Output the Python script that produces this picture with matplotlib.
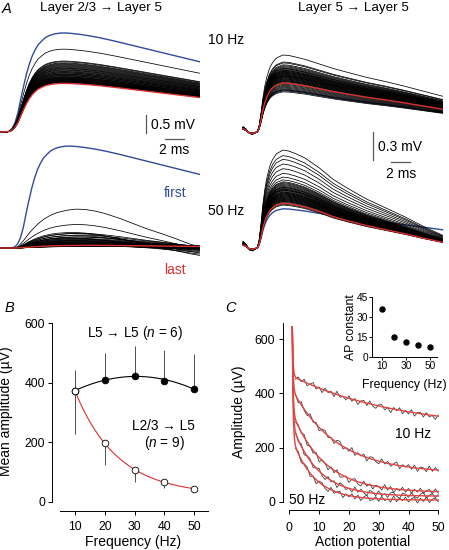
import numpy as np
import matplotlib.pyplot as plt

plt.rcParams['font.family'] = ['Liberation Sans', 'DejaVu Sans']
plt.rcParams['mathtext.fontset'] = 'custom'
plt.rcParams['mathtext.rm'] = 'Liberation Sans'
plt.rcParams['mathtext.it'] = 'Liberation Sans:italic'
plt.rcParams['axes.linewidth'] = 0.7

W, H = 449, 550
BLUE = '#2f4c9c'
RED = '#d8302e'
FS = 10          # annotation text
FS_LAB = 10      # axis labels
FS_TICK = 8.8

# ---------------- panel A: EPSP shapes (fraction of peak), time in ms
L23_T = [0, 0.5, 1.0, 1.3, 1.6, 1.9, 2.2, 2.5, 2.8, 3.1, 3.4, 3.7, 4.0, 4.4, 4.8,
         5.3, 5.8, 6.4, 7.0, 7.6, 8.5, 9.5, 10.5, 12, 13.5, 15, 16.5, 18, 19.5, 21]
L23_V = [0, 0, 0.01, 0.04, 0.10, 0.20, 0.34, 0.47, 0.59, 0.69, 0.77, 0.83, 0.88, 0.92, 0.955,
         0.978, 0.992, 1.0, 1.0, 0.995, 0.985, 0.97, 0.952, 0.92, 0.885, 0.85, 0.815, 0.78, 0.745, 0.71]
L23_50_T = [0, 1.0, 1.6, 2.0, 2.5, 3.0, 3.5, 4.0, 4.6, 5.3, 6.0, 7.0, 8.0, 9.0, 10.0,
            11.0, 12.5, 14.0, 15.5, 17.0, 18.5, 20.0, 21.0]
L23_50_V = [0, 0, 0, 0.06, 0.2, 0.36, 0.5, 0.62, 0.74, 0.84, 0.91, 0.97, 1.0, 0.99, 0.95,
            0.89, 0.77, 0.63, 0.49, 0.37, 0.24, 0.1, 0.03]
L5_T = [0, 0.3, 0.7, 1.0, 1.3, 1.5, 1.7, 1.9, 2.1, 2.3, 2.5, 2.8, 3.1, 3.5, 4.2,
        4.8, 5.5, 6.5, 8.0, 9.5, 11.0, 13.0, 15.0, 17.0, 19.0, 21.0]
L5_V = [0.07, 0.04, -0.02, -0.03, -0.01, 0.0, 0.08, 0.25, 0.45, 0.6, 0.71, 0.83, 0.9, 0.96, 1.0,
        0.995, 0.975, 0.945, 0.885, 0.825, 0.775, 0.71, 0.655, 0.595, 0.53, 0.465]
L5_50_V = [0.07, 0.04, -0.02, -0.03, -0.01, 0.0, 0.08, 0.25, 0.45, 0.6, 0.71, 0.83, 0.9, 0.96, 1.0,
           0.99, 0.965, 0.92, 0.82, 0.70, 0.61, 0.50, 0.41, 0.32, 0.22, 0.13]

# peak amplitudes (mV): first EPSP, last EPSP, and the ones in between
L23_10_FIRST, L23_10_LAST = 2.75, 1.35
L23_10_AMP = [2.30, 1.97, 1.95, 1.92, 1.90, 1.88, 1.86, 1.84, 1.82, 1.80, 1.78, 1.77,
              1.75, 1.73, 1.72, 1.70, 1.68, 1.67, 1.65, 1.64, 1.62, 1.61, 1.60, 1.58,
              1.57, 1.56, 1.54, 1.53, 1.52, 1.51, 1.50, 1.49, 1.48, 1.47, 1.46, 1.45,
              1.45, 1.44, 1.43, 1.42, 1.42, 1.41, 1.40, 1.40, 1.39, 1.38, 1.38, 1.37]
L23_50_FIRST, L23_50_LAST = 2.83, 0.06
L23_50_AMP = [1.08, 0.67, 0.50, 0.45, 0.40, 0.37, 0.35, 0.33, 0.31, 0.29, 0.27, 0.26,
              0.24, 0.23, 0.22, 0.20, 0.19, 0.18, 0.17, 0.16, 0.15, 0.14, 0.13, 0.12,
              0.12, 0.11, 0.10, 0.10, 0.09, 0.09, 0.08, 0.08, 0.07, 0.07, 0.07, 0.06,
              0.06, 0.06, 0.05, 0.05, 0.05, 0.05, 0.04, 0.04, 0.04, 0.04, 0.03, 0.03]
# baseline drift at the end of each 50 Hz L2/3 sweep (mV)
L23_50_DRIFT = [0.0, -0.05, -0.22, -0.15, 0.02, -0.08, 0.03, -0.18, 0.0, 0.04,
                -0.05, 0.02, -0.1, 0.03, 0.0, -0.03, 0.04, -0.12, 0.02, 0.0,
                0.05, -0.02, 0.03, 0.01, -0.06, 0.04, 0.02, 0.0, 0.03, -0.04,
                0.05, 0.01, 0.02, 0.04, -0.02, 0.03, 0.0, 0.05, 0.02, 0.04,
                0.01, 0.03, 0.05, 0.02, 0.04, 0.03, 0.05, 0.04]
L5_10_FIRST, L5_10_LAST = 0.45, 0.525
L5_10_AMP = [0.825, 0.75, 0.74, 0.72, 0.71, 0.70, 0.69, 0.68, 0.68, 0.67, 0.66, 0.66,
             0.65, 0.65, 0.64, 0.64, 0.63, 0.63, 0.62, 0.62, 0.61, 0.61, 0.60, 0.60,
             0.60, 0.59, 0.59, 0.58, 0.58, 0.57, 0.57, 0.56, 0.56, 0.55, 0.55, 0.54,
             0.54, 0.53, 0.52, 0.51, 0.50, 0.49, 0.48, 0.47, 0.46, 0.45, 0.44, 0.43]
L5_50_FIRST, L5_50_LAST = 0.42, 0.48
L5_50_AMP = [1.05, 0.99, 0.95, 0.90, 0.85, 0.80, 0.76, 0.73, 0.71, 0.70,
             0.69, 0.68, 0.67, 0.66, 0.65, 0.65, 0.64, 0.63, 0.63, 0.62,
             0.62, 0.61, 0.60, 0.60, 0.59, 0.59, 0.58, 0.58, 0.57, 0.57,
             0.56, 0.56, 0.55, 0.55, 0.54, 0.54, 0.53, 0.53, 0.52, 0.52,
             0.51, 0.51, 0.50, 0.50, 0.49, 0.48, 0.47, 0.46]
ONSET_SHIFT_50 = 0.55  # ms, later onset of the first L2/3 EPSP at 50 Hz

# ---------------- panel B
FREQ = [10, 20, 30, 40, 50]
L5_MEAN = [372, 410, 424, 405, 380]
L5_SEM = [69, 90, 98, 106, 115]
L23_MEAN = [372, 198, 106, 68, 44]
L23_SEM = [145, 75, 39, 22, 0]

# ---------------- panel C
AP_CONST = [36, 15, 11, 8.7, 7.3]        # inset, decay constant (APs)
FIRST_AMP = 646
FIT_C = [265, 105, 34, 20, 6]
FIT_A = [193, 289, 268, 233, 197]
AMP_10 = [452, 461, 443, 452, 428, 435, 440, 416, 424, 403, 419, 403, 408, 388, 408, 386,
          389, 376, 391, 371, 381, 359, 372, 374, 355, 372, 353, 345, 358, 359, 339, 348,
          329, 348, 336, 347, 325, 337, 324, 340, 316, 329, 330, 313, 329, 313, 319, 304, 320]
AMP_20 = [399, 366, 369, 337, 318, 325, 293, 293, 262, 268, 263, 237, 238, 215, 227, 223,
          195, 200, 186, 200, 171, 181, 169, 176, 150, 166, 164, 148, 140, 158, 140, 149,
          131, 140, 147, 122, 137, 128, 137, 120, 135, 112, 128, 125, 111, 132, 112, 126, 113]
AMP_30 = [294, 284, 253, 248, 208, 205, 179, 182, 147, 155, 141, 118, 129, 107, 118, 91,
          91, 95, 71, 83, 85, 65, 58, 76, 57, 66, 47, 61, 56, 43, 63, 43,
          56, 34, 49, 41, 53, 35, 49, 31, 46, 36, 50, 30, 41, 45, 30, 47, 32]
AMP_40 = [260, 222, 214, 173, 170, 158, 126, 125, 123, 95, 82, 93, 73, 77, 52, 70,
          61, 45, 50, 36, 54, 35, 46, 33, 23, 42, 35, 22, 40, 22, 30, 16,
          33, 34, 20, 12, 32, 27, 16, 33, 19, 13, 28, 34, 14, 23, 30, 15, 26]
AMP_50 = [198, 186, 144, 140, 128, 94, 94, 66, 76, 70, 49, 38, 53, 31, 36, 38,
          15, 29, 18, 29, 10, 24, 4, 18, 24, 5, 7, 19, 1, 20, 4, 10,
          -1, 21, 0, 13, 4, 17, -1, 11, 16, -5, 13, 1, 18, -3, 9, 14, 0]
AMP_SERIES = [AMP_10, AMP_20, AMP_30, AMP_40, AMP_50]


def box(x0, y0, x1, y1):
    return [x0 / W, 1 - y1 / H, (x1 - x0) / W, (y1 - y0) / H]


fig = plt.figure(figsize=(W / 100, H / 100), dpi=100)


def ftext(x, y, s, **kw):
    kw.setdefault('fontsize', FS)
    kw.setdefault('ha', 'center')
    kw.setdefault('va', 'center')
    fig.text(x / W, 1 - y / H, s, **kw)


PX_MS = 9.5          # px per ms
PX_MV_L, PX_MV_R = 36.0, 93.3


def trace_ax(x0, y0, x1, y1, t0, base, px_mv):
    ax = fig.add_axes(box(x0, y0, x1, y1))
    ax.set_xlim((x0 - t0) / PX_MS, (x1 - t0) / PX_MS)
    ax.set_ylim(-(y1 - base) / px_mv, (base - y0) / px_mv)
    ax.axis('off')
    return ax


ax_lt = trace_ax(0, 25, 200, 140, 0, 132, PX_MV_L)
ax_lb = trace_ax(0, 140, 200, 260, 0, 248, PX_MV_L)
ax_rt = trace_ax(240, 25, 445, 140, 243, 132, PX_MV_R)
ax_rb = trace_ax(240, 140, 445, 260, 243, 248, PX_MV_R)

LW_T = 0.55
LW_C = 1.0

# left top, 10 Hz
t = np.array(L23_T)
v = np.array(L23_V)
ax_lt.plot(t, L23_10_FIRST * v, color=BLUE, lw=LW_C)
for a in L23_10_AMP:
    ax_lt.plot(t, a * v, color='k', lw=LW_T)
ax_lt.plot(t, L23_10_LAST * v, color=RED, lw=LW_C)

# left bottom, 50 Hz
t50 = np.array(L23_50_T)
v50 = np.array(L23_50_V)
ramp = np.clip((t50 - 2.0) / 19.0, 0, 1)
ax_lb.plot(np.r_[0, t + ONSET_SHIFT_50], L23_50_FIRST * np.r_[0, v], color=BLUE, lw=LW_C)
for a, d in zip(L23_50_AMP, L23_50_DRIFT):
    ax_lb.plot(t50, a * v50 + d * ramp, color='k', lw=LW_T)
ax_lb.plot(t50, L23_50_LAST * v50 + 0.04 * ramp, color=RED, lw=LW_C)

# right top, 10 Hz
t5 = np.array(L5_T)
v5 = np.array(L5_V)
v5_50 = np.array(L5_50_V)
ax_rt.plot(t5, L5_10_FIRST * v5, color=BLUE, lw=LW_C)
for a in L5_10_AMP:
    ax_rt.plot(t5, a * v5, color='k', lw=LW_T)
ax_rt.plot(t5, L5_10_LAST * v5, color=RED, lw=LW_C)

# right bottom, 50 Hz
ax_rb.plot(t5, L5_50_FIRST * v5, color=BLUE, lw=LW_C)
for a in L5_50_AMP:
    ax_rb.plot(t5, a * v5_50, color='k', lw=LW_T)
ax_rb.plot(t5, L5_50_LAST * v5_50, color=RED, lw=LW_C)

# scale bars
sb = dict(color='0.35', lw=0.9, clip_on=False)
ax_lt.plot([15.37, 15.37], [-0.03, 0.47], **sb)
ax_lt.plot([17.37, 19.37], [-0.194, -0.194], **sb)
ax_lt.text(15.85, 0.19, '0.5 mV', fontsize=FS, va='center', ha='left')
ax_lt.text(18.37, -0.5, '2 ms', fontsize=FS, va='center', ha='center')
ax_rt.plot([13.68, 13.68], [-0.3, 0.0], **sb)
ax_rt.plot([15.58, 17.58], [-0.3215, -0.3215], **sb)
ax_rt.text(14.2, -0.161, '0.3 mV', fontsize=FS, va='center', ha='left')
ax_rt.text(16.6, -0.45, '2 ms', fontsize=FS, va='center', ha='center')

ftext(2, 9, 'A', ha='left', style='italic', fontsize=10.5)
ftext(101, 8, 'Layer 2/3 \u2192 Layer 5', fontsize=9.6)
ftext(353, 8, 'Layer 5 \u2192 Layer 5', fontsize=9.6)
ftext(226, 40, '10 Hz')
ftext(226, 211, '50 Hz')
ftext(175, 193, 'first', color=BLUE)
ftext(175, 270, 'last', color=RED)

# ---------------- panel B
axB = fig.add_axes(box(60, 310, 208, 511))
axB.set_xlim(5, 54.6)
axB.set_ylim(-30.2, 643.6)
for s in ['top', 'right']:
    axB.spines[s].set_visible(False)
axB.spines['left'].set_position(('outward', 8 * 0.72))
axB.spines['left'].set_bounds(0, 600)
axB.set_xticks(FREQ)
axB.set_yticks([0, 200, 400, 600])
axB.tick_params(axis='both', length=3, width=0.7, labelsize=FS_TICK)
axB.tick_params(axis='y', pad=1.8)
axB.tick_params(axis='x', pad=4.5)

f = np.array(FREQ, dtype=float)
l5 = np.array(L5_MEAN, dtype=float)
l23 = np.array(L23_MEAN, dtype=float)
axB.vlines(f, l5, l5 + np.array(L5_SEM), color='0.3', lw=0.7)
axB.vlines(f, l23 - np.array(L23_SEM), l23, color='0.3', lw=0.7)

ff = np.linspace(10, 50, 200)
axB.plot(ff, np.polyval(np.polyfit(f, l5, 2), ff), color='k', lw=0.8)
best = None
for c in np.linspace(0, 40, 81):
    p = np.polyfit(f - 10, np.log(l23 - c), 1)
    err = np.sum((c + np.exp(np.polyval(p, f - 10)) - l23) ** 2)
    if best is None or err < best[0]:
        best = (err, c, p)
_, c_fit, p_fit = best
axB.plot(ff, c_fit + np.exp(np.polyval(p_fit, ff - 10)), color=RED, lw=0.8)

axB.plot(f, l5, 'o', ms=4.8, mfc='k', mec='k', mew=0.6)
axB.plot(f, l23, 'o', ms=4.8, mfc='white', mec='k', mew=0.6)

ftext(5, 308, 'B', ha='left', style='italic', fontsize=10.5)
ftext(6.5, 411, 'Mean amplitude (\u00b5V)', rotation=90, fontsize=FS_LAB)
ftext(133, 542, 'Frequency (Hz)', fontsize=FS_LAB)
ftext(135, 333, 'L5 \u2192 L5 ($n$ = 6)', fontsize=9.8)
ftext(163, 426, 'L2/3 \u2192 L5', fontsize=9.8)
ftext(164, 443, '($n$ = 9)', fontsize=9.8)

# ---------------- panel C
axC = fig.add_axes(box(289.3, 323, 438.3, 501.7))
axC.set_xlim(0, 50)
axC.set_ylim(0, 660)
for s in ['top', 'right']:
    axC.spines[s].set_visible(False)
axC.spines['left'].set_position(('outward', 6 * 0.72))
axC.spines['bottom'].set_position(('outward', 8 * 0.72))
axC.set_xticks([0, 10, 20, 30, 40, 50])
axC.set_yticks([0, 200, 400, 600])
axC.tick_params(axis='both', length=3, width=0.7, labelsize=FS_TICK)
axC.tick_params(axis='y', pad=3)
axC.tick_params(axis='x', pad=5.5)

n = np.arange(2, 51)
nn = np.linspace(1, 50, 500)
for amp in AMP_SERIES:
    axC.plot(n, amp, color='0.25', lw=0.6, clip_on=False)
for c, a, tau in zip(FIT_C, FIT_A, AP_CONST):
    fast = FIRST_AMP - (c + a * np.exp(1 / tau))
    fit = c + a * np.exp(-(nn - 2) / tau) + fast * np.exp(-(nn - 1) / 0.25)
    axC.plot(nn, fit, color='#e04440', lw=LW_C, clip_on=False)

ftext(225, 308, 'C', ha='left', style='italic', fontsize=10.5)
ftext(239, 412, 'Amplitude (\u00b5V)', rotation=90, fontsize=FS_LAB)
ftext(363, 542, 'Action potential', fontsize=FS_LAB)
ftext(413, 434, '10 Hz')
ftext(289, 500, '50 Hz', ha='left')

# inset
axI = fig.add_axes(box(371.7, 297.3, 436.7, 356.7))
axI.set_xlim(1.1, 55.6)
axI.set_ylim(0, 45)
for s in ['top', 'right']:
    axI.spines[s].set_visible(False)
axI.set_xticks([10, 30, 50])
axI.set_yticks([0, 15, 30, 45])
axI.tick_params(axis='both', length=2, width=0.7, labelsize=7.3, pad=0.8)
axI.plot(FREQ, AP_CONST, 'o', color='k', ms=3.6)
ftext(350.5, 327, 'AP constant', rotation=90, fontsize=8.8)
ftext(404, 385, 'Frequency (Hz)', fontsize=8.8)

fig.savefig('out.png', dpi=100)
